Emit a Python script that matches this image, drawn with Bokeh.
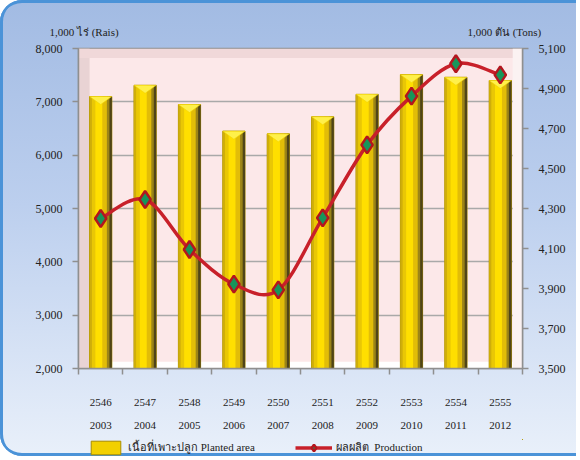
from bokeh.plotting import figure
from bokeh.layouts import column
from bokeh.models import (Range1d, LinearAxis, FixedTicker, NumeralTickFormatter,
                          Legend, LegendItem, BoxAnnotation, ColumnDataSource)
from bokeh.transform import dodge
from bokeh.embed import file_html
from bokeh.resources import INLINE

# ---- data ----
years_be = ["2546", "2547", "2548", "2549", "2550", "2551", "2552", "2553", "2554", "2555"]
years_ce = ["2003", "2004", "2005", "2006", "2007", "2008", "2009", "2010", "2011", "2012"]
planted_area = [7100, 7310, 6950, 6450, 6400, 6720, 7140, 7510, 7460, 7400]   # 1,000 rai
production = [4250, 4345, 4095, 3922, 3893, 4253, 4618, 4862, 5024, 4968]      # 1,000 tons
left_ticks = [2000, 3000, 4000, 5000, 6000, 7000, 8000]
right_ticks = [3500, 3700, 3900, 4100, 4300, 4500, 4700, 4900, 5100]
axis_titles = ["1,000 ไร่ (Rais)", "1,000 ตัน (Tons)"]
series_names = ["เนื้อที่เพาะปลูก Planted area", "ผลผลิต  Production"]

FONT = "Liberation Serif"
TXT = "#222222"
AX = "#8f8f8f"
BAR_KEY = dict(fill_color="#f2d000", line_color="#a88c00", line_width=1)
LINE_STYLE = dict(line_color="#c8202a", line_width=3.5)
PT_STYLE = dict(marker="diamond", fill_color="#17955a", line_color="#b3161e", line_width=2.5)
W = 576

xs = list(range(1, len(years_be) + 1))
src = ColumnDataSource(dict(x=xs, area=planted_area, prod=production))

p = figure(width=W, height=439, x_range=Range1d(0.5, len(xs) + 0.5),
           y_range=Range1d(left_ticks[0], left_ticks[-1]),
           output_backend="svg", toolbar_location=None,
           min_border_left=78, min_border_right=W - 522, min_border_top=48, min_border_bottom=71,
           background_fill_color="#fce8e9", border_fill_color=None,
           outline_line_color=AX, outline_line_width=1.5)
p.extra_y_ranges = {"prod": Range1d(right_ticks[0], right_ticks[-1])}

# 3D wall decoration
for kw in [dict(bottom=2000, top=2125, fill_color="#ffffff"),
           dict(left=0.5, right=0.75, fill_color="#e9d3d4"),
           dict(bottom=7820, top=8000, fill_color="#f0d8d9"),
           dict(left=10.28, right=10.5, fill_color="#fbf2f2")]:
    p.add_layout(BoxAnnotation(level="underlay", line_color=None, fill_alpha=1, **kw))

p.xgrid.visible = False
p.ygrid.grid_line_color = "#a9a9a9"
p.ygrid.grid_line_width = 1.5

# ---- bars (shaded strips) ----
bar_w = 0.5
p.vbar(x="x", top="area", bottom=left_ticks[0], width=bar_w, source=src, **BAR_KEY)
parts = [7, 10, 20, 13, 7, 7]
cols = ["#cfae0a", "#e9c705", "#ffdf00", "#e2bd08", "#9c8418", "#4f4418"]
tot = sum(parts)
cum = 0
for w, c in zip(parts, cols):
    off = -bar_w / 2 + (cum + w / 2) * bar_w / tot
    p.vbar(x=dodge("x", off), top="area", bottom=left_ticks[0], width=w * bar_w / tot + 0.004,
           source=src, fill_color=c, line_color=None)
    cum += w
cap_xs = [[x - bar_w / 2, x + bar_w / 2, x] for x in xs]
cap_ys = [[a, a, a - 150] for a in planted_area]
p.patches(cap_xs, cap_ys, fill_color="#fff04a", line_color="#f0d000", line_width=0.5)

# ---- smoothed production line ----
n = len(xs)
x0, y0, x1, y1, cx0, cy0, cx1, cy1 = [], [], [], [], [], [], [], []
for i in range(n - 1):
    xa_, ya_ = xs[i], production[i]
    xb_, yb_ = xs[i + 1], production[i + 1]
    xp, yp = (xs[i - 1], production[i - 1]) if i > 0 else (xa_, ya_)
    xn, yn = (xs[i + 2], production[i + 2]) if i + 2 < n else (xb_, yb_)
    x0.append(xa_); y0.append(ya_); x1.append(xb_); y1.append(yb_)
    cx0.append(xa_ + (xb_ - xp) / 6); cy0.append(ya_ + (yb_ - yp) / 6)
    cx1.append(xb_ - (xn - xa_) / 6); cy1.append(yb_ - (yn - ya_) / 6)
p.bezier(x0=x0, y0=y0, x1=x1, y1=y1, cx0=cx0, cy0=cy0, cx1=cx1, cy1=cy1,
         y_range_name="prod", **LINE_STYLE)
p.scatter(x="x", y="prod", source=src, y_range_name="prod", size=17, **PT_STYLE)

# ---- axes ----
ya = p.yaxis[0]
ya.ticker = FixedTicker(ticks=left_ticks)
ya.formatter = NumeralTickFormatter(format="0,0")
ra = LinearAxis(y_range_name="prod", ticker=FixedTicker(ticks=right_ticks),
                formatter=NumeralTickFormatter(format="0,0"))
p.add_layout(ra, "right")
for ax in (ya, ra):
    ax.axis_line_color = AX
    ax.axis_line_width = 1.5
    ax.major_tick_line_color = AX
    ax.major_tick_line_width = 1.5
    ax.major_tick_out = 6
    ax.major_tick_in = 0
    ax.minor_tick_line_color = None
    ax.major_label_standoff = 10
    ax.major_label_text_font = FONT
    ax.major_label_text_font_size = "12px"
    ax.major_label_text_color = TXT

xa = p.xaxis[0]
xa.ticker = FixedTicker(ticks=xs, minor_ticks=[x - 0.5 for x in xs] + [xs[-1] + 0.5])
xa.major_label_overrides = {x: t for x, t in zip(xs, years_be)}
xa.axis_line_color = AX
xa.axis_line_width = 1.5
xa.major_tick_out = 0
xa.major_tick_in = 0
xa.major_tick_line_color = None
xa.minor_tick_line_color = AX
xa.minor_tick_line_width = 1.5
xa.minor_tick_out = 6
xa.minor_tick_in = 0
xa.major_label_standoff = 24
xa.major_label_text_font = FONT
xa.major_label_text_font_size = "11px"
xa.major_label_text_color = TXT

xb = LinearAxis(ticker=FixedTicker(ticks=xs),
                major_label_overrides={x: t for x, t in zip(xs, years_ce)},
                axis_line_color=None, major_tick_line_color=None, minor_tick_line_color=None,
                major_tick_out=0, major_tick_in=0,
                major_label_standoff=13, major_label_text_font=FONT,
                major_label_text_font_size="11px", major_label_text_color=TXT)
p.add_layout(xb, "below")

# ---- axis titles: a bare top axis whose two labels sit over the two value axes ----
title_pos = [0.624, 10.09]
ta = LinearAxis(ticker=FixedTicker(ticks=title_pos),
                major_label_overrides={x: t for x, t in zip(title_pos, axis_titles)},
                axis_line_color=None, major_tick_line_color=None, minor_tick_line_color=None,
                major_tick_out=0, major_tick_in=0,
                major_label_standoff=11, major_label_text_font=FONT,
                major_label_text_font_size="11px", major_label_text_color=TXT)
p.add_layout(ta, "above")

# ---- legend strip (its own small figure; the series are drawn there far out of view) ----
leg = figure(width=W, height=17, x_range=Range1d(-60, -59), y_range=Range1d(-60, -59),
             output_backend="svg", toolbar_location=None,
             x_axis_location=None, y_axis_location=None, min_border=0,
             border_fill_color=None, background_fill_color=None, outline_line_color=None)
leg.grid.visible = False
k_bar = leg.vbar(x="x", top="area", bottom=left_ticks[0], width=bar_w, source=src, **BAR_KEY)
k_line = leg.line(x="x", y="prod", source=src, **LINE_STYLE)
k_pt = leg.scatter(x="x", y="prod", source=src, size=12, **PT_STYLE)
legend = Legend(items=[LegendItem(label=series_names[0], renderers=[k_bar]),
                       LegendItem(label=series_names[1], renderers=[k_line, k_pt])],
                orientation="horizontal", location=(9, 0), background_fill_alpha=0,
                border_line_color=None, label_text_font=FONT, label_text_font_size="11px",
                label_text_color=TXT, glyph_width=37, glyph_height=17, label_height=17,
                spacing=40, padding=0, margin=0, label_standoff=4)
leg.add_layout(legend)

page = column(p, leg, spacing=0)
page.styles = {
    "background": "linear-gradient(to bottom, #a2bbe3 0%, #bccfee 45%, #e9f0fa 100%)",
    "border-top-left-radius": "22px",
    "border-bottom-left-radius": "22px",
    "box-shadow": "inset 3px 0 0 #4b93d8, inset 0 3px 0 #4b93d8, inset 0 -3px 0 #4b93d8",
}

open("out.html", "w").write(file_html(page, INLINE))
